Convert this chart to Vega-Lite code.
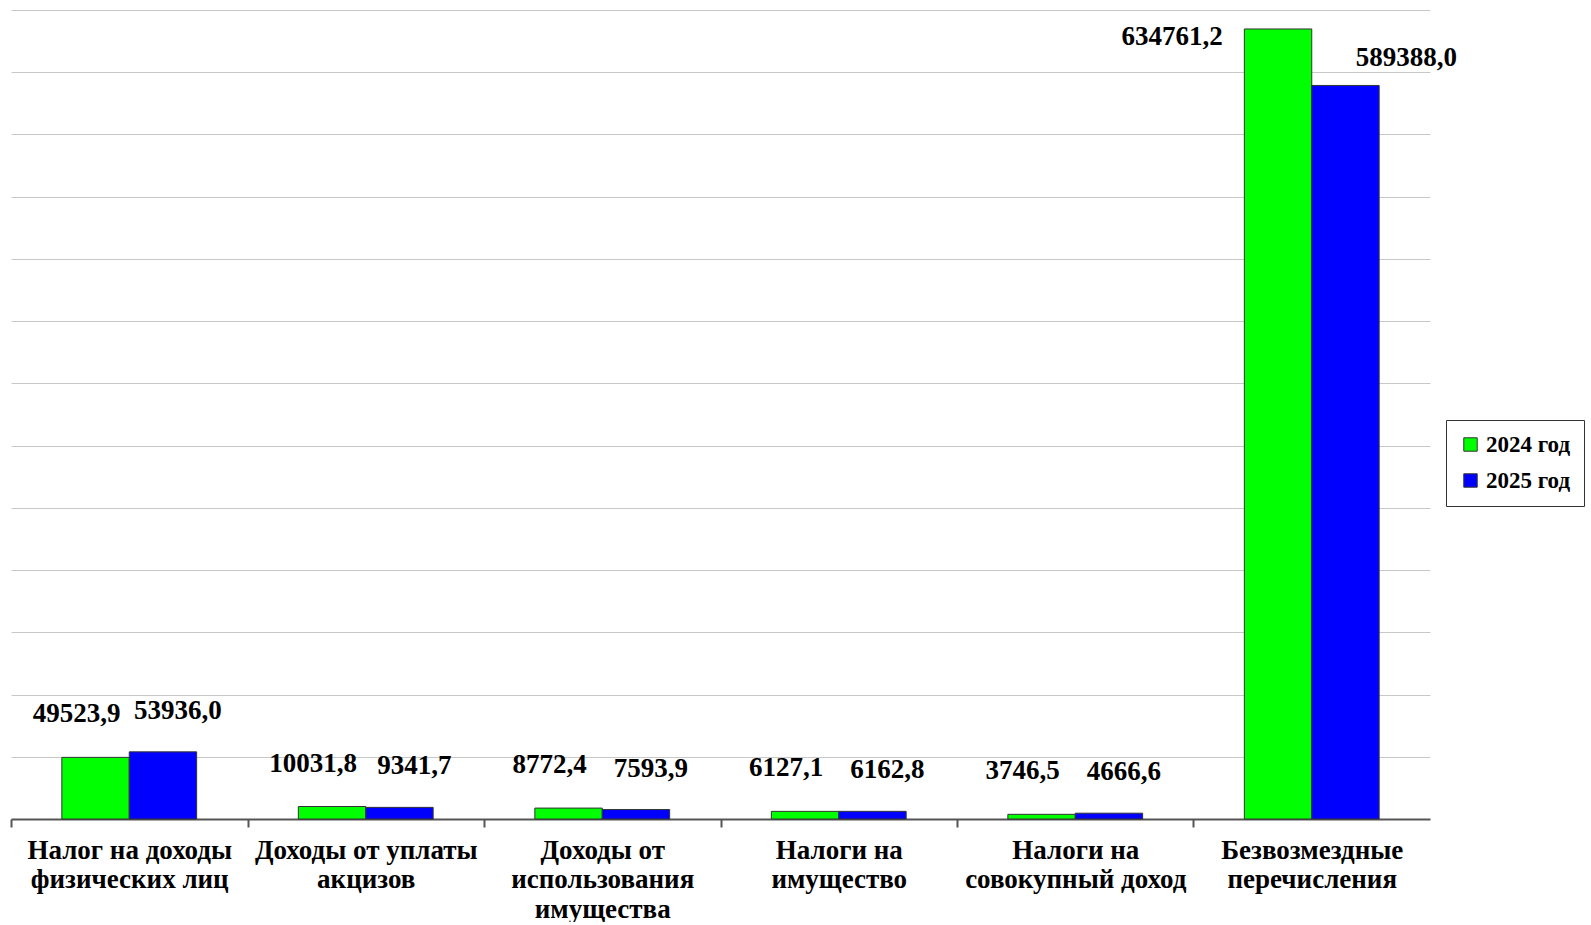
{
  "$schema": "https://vega.github.io/schema/vega-lite/v6.json",
  "width": 1419,
  "height": 809,
  "padding": {"left": 10, "top": 10, "right": 0, "bottom": 0},
  "background": "white",
  "config": {
    "view": {"stroke": null},
    "font": "Liberation Serif",
    "locale": {"number": {"decimal": ",", "thousands": "", "grouping": [3], "currency": ["", ""]}}
  },
  "data": {
    "values": [
      {"category": "Налог на доходы физических лиц", "year": "2024 год", "value": 49523.9},
      {"category": "Налог на доходы физических лиц", "year": "2025 год", "value": 53936.0},
      {"category": "Доходы от уплаты акцизов", "year": "2024 год", "value": 10031.8},
      {"category": "Доходы от уплаты акцизов", "year": "2025 год", "value": 9341.7},
      {"category": "Доходы от использования имущества", "year": "2024 год", "value": 8772.4},
      {"category": "Доходы от использования имущества", "year": "2025 год", "value": 7593.9},
      {"category": "Налоги на имущество", "year": "2024 год", "value": 6127.1},
      {"category": "Налоги на имущество", "year": "2025 год", "value": 6162.8},
      {"category": "Налоги на совокупный доход", "year": "2024 год", "value": 3746.5},
      {"category": "Налоги на совокупный доход", "year": "2025 год", "value": 4666.6},
      {"category": "Безвозмездные перечисления", "year": "2024 год", "value": 634761.2},
      {"category": "Безвозмездные перечисления", "year": "2025 год", "value": 589388.0}
    ]
  },
  "encoding": {
    "x": {
      "field": "category",
      "type": "nominal",
      "sort": null,
      "scale": {"paddingInner": 0.43, "paddingOuter": 0.215},
      "axis": {
        "title": null,
        "labelAngle": 0,
        "labelFont": "Liberation Serif",
        "labelFontWeight": "bold",
        "labelFontSize": 27,
        "labelColor": "black",
        "labelLineHeight": 29.5,
        "labelPadding": 10,
        "labelLimit": 300,
        "labelBaseline": "top",
        "domainColor": "#555555",
        "domainWidth": 2,
        "tickColor": "#555555",
        "tickWidth": 2,
        "tickSize": 8,
        "tickOffset": -118.25,
        "labelOffset": 118.25,
        "grid": false,
        "labelExpr": "datum.value == 'Налог на доходы физических лиц' ? ['Налог на доходы', 'физических лиц'] : datum.value == 'Доходы от уплаты акцизов' ? ['Доходы от уплаты', 'акцизов'] : datum.value == 'Доходы от использования имущества' ? ['Доходы от', 'использования', 'имущества'] : datum.value == 'Налоги на имущество' ? ['Налоги на', 'имущество'] : datum.value == 'Налоги на совокупный доход' ? ['Налоги на', 'совокупный доход'] : ['Безвозмездные', 'перечисления']"
      }
    },
    "y": {
      "field": "value",
      "type": "quantitative",
      "scale": {"domain": [0, 650000], "nice": false},
      "axis": {
        "title": null,
        "labels": false,
        "ticks": false,
        "domain": false,
        "grid": true,
        "gridColor": "#c8c8c8",
        "gridWidth": 1,
        "values": [50000, 100000, 150000, 200000, 250000, 300000, 350000, 400000, 450000, 500000, 550000, 600000, 650000]
      }
    },
    "xOffset": {"field": "year", "type": "nominal"}
  },
  "layer": [
    {
      "mark": {"type": "bar", "stroke": "#333333", "strokeWidth": 1},
      "encoding": {
        "color": {
          "field": "year",
          "type": "nominal",
          "scale": {"domain": ["2024 год", "2025 год"], "range": ["#00FF00", "#0000FF"]},
          "legend": {
            "title": null,
            "orient": "none",
            "legendX": 1435,
            "legendY": 410,
            "strokeColor": "#333333",
            "fillColor": "white",
            "padding": 13,
            "symbolType": "square",
            "symbolSize": 180,
            "symbolStrokeColor": "#333333",
            "symbolStrokeWidth": 1,
            "labelFont": "Liberation Serif",
            "labelFontWeight": "bold",
            "labelFontSize": 23,
            "labelColor": "black",
            "labelOffset": 4,
            "rowPadding": 12
          }
        }
      }
    },
    {
      "transform": [{"filter": "datum.year == '2024 год' && datum.category != 'Безвозмездные перечисления'"}],
      "mark": {"type": "text", "dx": -19, "dy": -43, "fontWeight": "bold", "fontSize": 27, "font": "Liberation Serif", "color": "black"},
      "encoding": {"text": {"field": "value", "type": "quantitative", "format": ".1f"}}
    },
    {
      "transform": [{"filter": "datum.year == '2025 год' && datum.category != 'Безвозмездные перечисления'"}],
      "mark": {"type": "text", "dx": 15, "dy": -41, "fontWeight": "bold", "fontSize": 27, "font": "Liberation Serif", "color": "black"},
      "encoding": {"text": {"field": "value", "type": "quantitative", "format": ".1f"}}
    },
    {
      "transform": [{"filter": "datum.year == '2024 год' && datum.category == 'Безвозмездные перечисления'"}],
      "mark": {"type": "text", "dx": -106, "dy": 8, "fontWeight": "bold", "fontSize": 27, "font": "Liberation Serif", "color": "black"},
      "encoding": {"text": {"field": "value", "type": "quantitative", "format": ".1f"}}
    },
    {
      "transform": [{"filter": "datum.year == '2025 год' && datum.category == 'Безвозмездные перечисления'"}],
      "mark": {"type": "text", "dx": 61, "dy": -27, "fontWeight": "bold", "fontSize": 27, "font": "Liberation Serif", "color": "black"},
      "encoding": {"text": {"field": "value", "type": "quantitative", "format": ".1f"}}
    }
  ]
}
